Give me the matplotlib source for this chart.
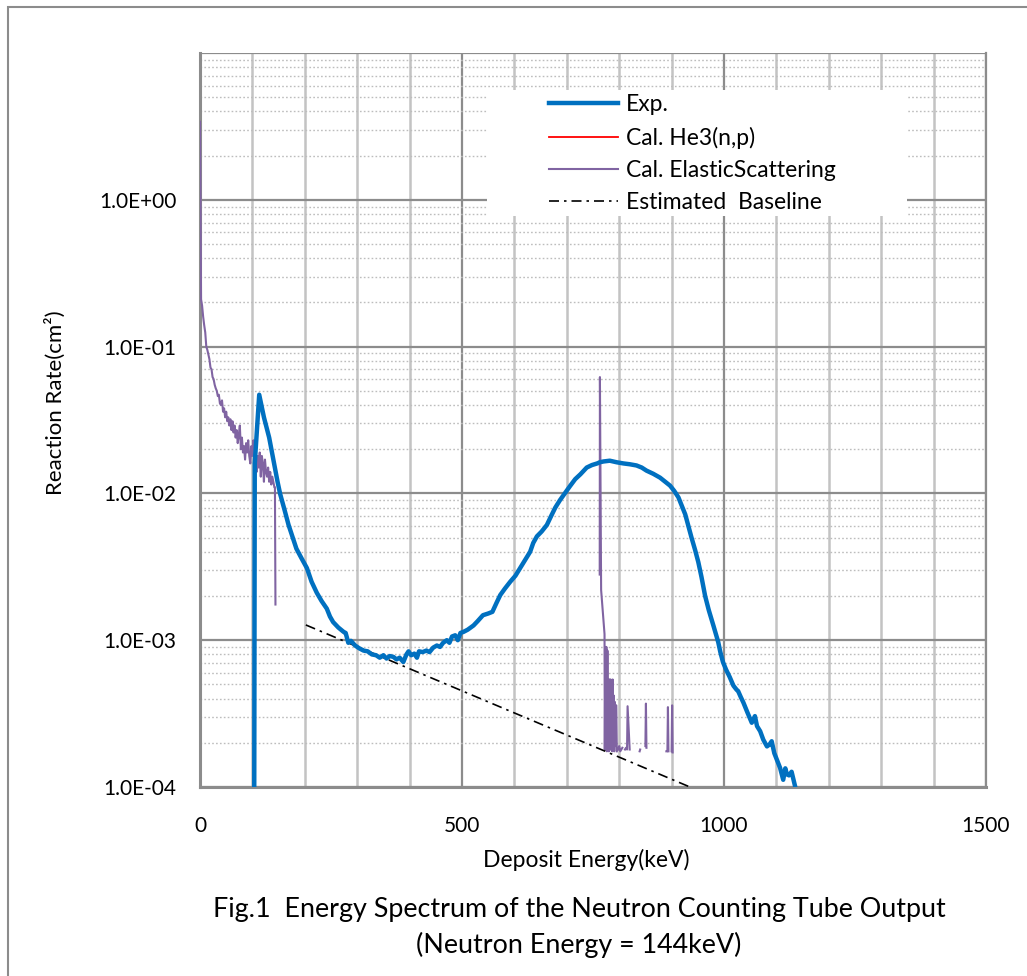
import numpy as np
import matplotlib
matplotlib.use("Agg")
import matplotlib.pyplot as plt
from matplotlib.ticker import MultipleLocator, LogLocator, FuncFormatter, NullFormatter
from matplotlib.patches import Rectangle

plt.rcParams['font.family'] = ['Lato', 'DejaVu Sans']

# ---------------- data ----------------
exp_x = [103.5, 104.5, 113, 122, 132, 140, 143, 148, 153, 161, 169, 177, 184, 194, 204, 213, 223, 232,
         242, 248, 254, 264, 274, 278, 283, 288, 296, 304, 312, 320, 328, 336, 343, 350, 356, 362, 369,
         375, 381, 388, 394, 398, 403, 409, 414, 418, 425, 432, 438, 445, 452, 458, 464, 471, 476, 481,
         487, 492, 497, 503, 511, 522, 530, 540, 550, 558, 566, 573, 582, 592, 602, 611, 620, 630, 636,
         643, 652, 662, 670, 678, 687, 697, 706, 716, 726, 738, 748, 758, 763, 770, 782, 795, 808, 820,
         833, 843, 852, 865, 878, 888, 897, 905, 913, 919, 926, 932, 938, 945, 951, 957, 964, 971, 980,
         989, 993, 998, 1004, 1011, 1018, 1024, 1027, 1032, 1037, 1045, 1053, 1059, 1063, 1069, 1075,
         1082, 1087, 1091, 1096, 1101, 1107, 1113, 1117, 1120, 1124, 1129, 1136, 1140]
exp_y = [9e-5, 1.6e-2, 4.7e-2, 3.3e-2, 2.4e-2, 1.7e-2, 1.5e-2, 1.2e-2, 9.9e-3, 7.8e-3, 6.1e-3, 5.0e-3,
         4.2e-3, 3.6e-3, 3.1e-3, 2.5e-3, 2.1e-3, 1.85e-3, 1.64e-3, 1.45e-3, 1.33e-3, 1.22e-3, 1.14e-3,
         1.12e-3, 9.6e-4, 9.9e-4, 9.2e-4, 8.8e-4, 8.5e-4, 8.4e-4, 8.0e-4, 7.9e-4, 7.6e-4, 7.9e-4, 7.5e-4,
         7.8e-4, 7.7e-4, 7.4e-4, 7.6e-4, 7.1e-4, 8.0e-4, 8.4e-4, 7.9e-4, 8.1e-4, 7.6e-4, 8.4e-4, 8.3e-4,
         8.5e-4, 8.3e-4, 8.9e-4, 9.2e-4, 9.0e-4, 9.6e-4, 1.0e-3, 9.6e-4, 1.06e-3, 1.08e-3, 1.0e-3,
         1.12e-3, 1.14e-3, 1.18e-3, 1.26e-3, 1.35e-3, 1.48e-3, 1.52e-3, 1.56e-3, 1.8e-3, 2.03e-3,
         2.25e-3, 2.5e-3, 2.75e-3, 3.1e-3, 3.5e-3, 4.0e-3, 4.6e-3, 5.1e-3, 5.5e-3, 6.1e-3, 7.0e-3,
         8.0e-3, 9.0e-3, 1.01e-2, 1.12e-2, 1.25e-2, 1.35e-2, 1.5e-2, 1.56e-2, 1.6e-2, 1.63e-2, 1.65e-2,
         1.67e-2, 1.63e-2, 1.6e-2, 1.58e-2, 1.55e-2, 1.5e-2, 1.43e-2, 1.36e-2, 1.28e-2, 1.2e-2, 1.13e-2,
         1.04e-2, 9.4e-3, 8.3e-3, 7.2e-3, 6.0e-3, 5.0e-3, 4.1e-3, 3.4e-3, 2.7e-3, 2.0e-3, 1.6e-3,
         1.25e-3, 9.7e-4, 8.3e-4, 7.1e-4, 6.3e-4, 5.6e-4, 4.9e-4, 4.6e-4, 4.5e-4, 4.1e-4, 3.76e-4,
         3.2e-4, 2.74e-4, 3.04e-4, 2.6e-4, 2.4e-4, 2.1e-4, 1.89e-4, 1.95e-4, 2.05e-4, 1.7e-4, 1.53e-4,
         1.35e-4, 1.12e-4, 1.34e-4, 1.22e-4, 1.2e-4, 1.27e-4, 1.0e-4, 8.5e-5]

he3_x = []
he3_y = []

nan = float('nan')
elastic_x = [0, 1, 2, 4, 6, 8, 10, 12, 14, 16, 18, 20, 22, 24, 26, 28, 30, 32, 34, 36, 38, 40, 42, 44,
             46, 48, 50, 52, 54, 56, 58, 60, 62, 64, 66, 68, 70, 72, 74, 76, 78, 80, 82, 84, 86, 88, 90,
             92, 94, 96, 98, 100, 102, 104, 106, 108, 110, 112, 114, 116, 118, 120, 122, 124, 126, 128,
             130, 132, 134, 136, 138, 140, 142, 143, 144,
             nan,
             762.8, 763.2, 765.5, 772, 772.5, 773.5, 774.5, 775.5, 776.5, 777.5, 778.5, 779.5, 780.5,
             781.5, 782.5, 783.5, 784.5, 785.5, 786.5, 787.5, 788.5, 789.5, 790.5, 791.5, 792.5, 793.5,
             794.5, 795.5,
             nan, 798, 800, 802, 804, 806,
             nan, 811, 813, 815, 816, 820,
             nan, 839, 840,
             nan, 850, 851, 852,
             nan, 890, 892, 893, 894,
             nan, 900, 901, 902]
elastic_y = [3.4, 1.0, 0.21, 0.19, 0.16, 0.14, 0.125, 0.10, 0.095, 0.088, 0.082, 0.072, 0.070, 0.062,
             0.060, 0.055, 0.052, 0.050, 0.046, 0.047, 0.041, 0.040, 0.043, 0.036, 0.038, 0.033, 0.036,
             0.031, 0.033, 0.029, 0.032, 0.027, 0.031, 0.026, 0.029, 0.024, 0.027, 0.022, 0.025, 0.029,
             0.020, 0.024, 0.019, 0.021, 0.017, 0.022, 0.019, 0.023, 0.018, 0.016, 0.021, 0.018, 0.023,
             0.015, 0.019, 0.014, 0.018, 0.015, 0.019, 0.013, 0.018, 0.016, 0.012, 0.017, 0.014, 0.013,
             0.015, 0.012, 0.014, 0.0115, 0.013, 0.012, 0.011, 0.011, 1.75e-3,
             nan,
             2.8e-3, 6.2e-2, 2.2e-3, 1.1e-3, 1.8e-4, 9e-4, 1.8e-4, 9e-4, 1.75e-4, 8.5e-4, 1.8e-4, 5.4e-4,
             1.75e-4, 5.4e-4, 1.8e-4, 5.4e-4, 1.8e-4, 5.3e-4, 1.75e-4, 5.4e-4, 1.8e-4, 4.2e-4, 1.75e-4,
             3.8e-4, 1.9e-4, 3.6e-4, 3.6e-4, 1.75e-4,
             nan, 1.8e-4, 1.9e-4, 1.75e-4, 1.8e-4, 1.85e-4,
             nan, 1.8e-4, 1.85e-4, 1.8e-4, 3.55e-4, 1.8e-4,
             nan, 1.75e-4, 1.8e-4,
             nan, 1.9e-4, 3.7e-4, 1.85e-4,
             nan, 1.75e-4, 1.75e-4, 3.5e-4, 1.75e-4,
             nan, 1.75e-4, 3.6e-4, 1.72e-4]

baseline_x = [202, 935]
baseline_y = [1.27e-3, 1.0e-4]

labels = ["Exp.", "Cal. He3(n,p)", "Cal. ElasticScattering", "Estimated  Baseline"]

# ---------------- figure ----------------
W, H = 1027, 976
fig = plt.figure(figsize=(W / 100, H / 100), dpi=100)
L, R, T, B = 200, 986, 53, 787
ax = fig.add_axes([L / W, 1 - B / H, (R - L) / W, (B - T) / H])

ax.set_yscale('log')
ax.set_xlim(0, 1500)
ax.set_ylim(1e-4, 1e1)

ax.xaxis.set_major_locator(MultipleLocator(500))
ax.xaxis.set_minor_locator(MultipleLocator(100))
ax.yaxis.set_major_locator(LogLocator(base=10, numticks=20))
ax.yaxis.set_minor_locator(LogLocator(base=10, subs=np.arange(2, 10), numticks=20))
ax.yaxis.set_minor_formatter(NullFormatter())
ax.yaxis.set_major_formatter(FuncFormatter(lambda v, p: "" if v > 5 else f"{v:.1E}"))

ax.set_axisbelow(True)
ax.grid(which='major', axis='x', color='#8c8c8c', lw=1.6)
ax.grid(which='minor', axis='x', color='#c3c3c3', lw=1.8)
ax.grid(which='major', axis='y', color='#8c8c8c', lw=1.6)
ax.grid(which='minor', axis='y', color='#bdbdbd', lw=1.0, ls=(0, (1.2, 1.6)))

ax.tick_params(which='both', length=0, labelsize=15, colors='black')
ax.tick_params(axis='y', pad=17)
ax.tick_params(axis='x', pad=21)

ax.spines['top'].set_visible(False)
ax.spines['right'].set_color('#8c8c8c')
ax.spines['right'].set_linewidth(1.6)
for s in ['left', 'bottom']:
    ax.spines[s].set_color('#8c8c8c')
    ax.spines[s].set_linewidth(2.2)

# white legend area
ax.add_patch(Rectangle((487 / W, 1 - 216 / H), (907 - 487) / W, (216 - 90) / H,
                       transform=fig.transFigure, facecolor='white', edgecolor='none', zorder=1))

l1, = ax.plot(exp_x, exp_y, color='#0070C0', lw=3.2, zorder=4, label=labels[0])
l2, = ax.plot(he3_x, he3_y, color='#FF0000', lw=1.3, zorder=3, label=labels[1])
l3, = ax.plot(elastic_x, elastic_y, color='#8064A2', lw=1.5, zorder=3, label=labels[2])
l4, = ax.plot(baseline_x, baseline_y, color='black', lw=1.2, ls=(0, (6, 3, 1.5, 3)), zorder=3,
              label=labels[3])

leg = ax.legend(handles=[l1, l2, l3, l4], loc='upper left',
                bbox_to_anchor=(549 / W, 1 - 94 / H), bbox_transform=fig.transFigure,
                frameon=False, fontsize=16.5, handlelength=3.0, handletextpad=0.35,
                labelspacing=0.5, borderpad=0, borderaxespad=0)
leg.set_zorder(6)

ax.set_xlabel("Deposit Energy(keV)", fontsize=16.5)
ax.xaxis.set_label_coords(586 / W, 1 - 860 / H, transform=fig.transFigure)
ax.xaxis.label.set_va('center')
ax.set_ylabel("Reaction Rate(cm²)", fontsize=16)
ax.yaxis.set_label_coords(55 / W, 1 - 403 / H, transform=fig.transFigure)
ax.yaxis.label.set_va('center')

fig.text(579 / W, 1 - 910 / H, "Fig.1  Energy Spectrum of the Neutron Counting Tube Output",
         ha='center', va='center', fontsize=19.4)
fig.text(579 / W, 1 - 945 / H, "(Neutron Energy = 144keV)", ha='center', va='center', fontsize=19.4)

fig.patches.append(Rectangle((8 / W, -0.1), 1.2, 1 - 7 / H + 0.1, transform=fig.transFigure,
                             fill=False, edgecolor='#8c8c8c', lw=1.5))

fig.savefig("out.png", dpi=100)
